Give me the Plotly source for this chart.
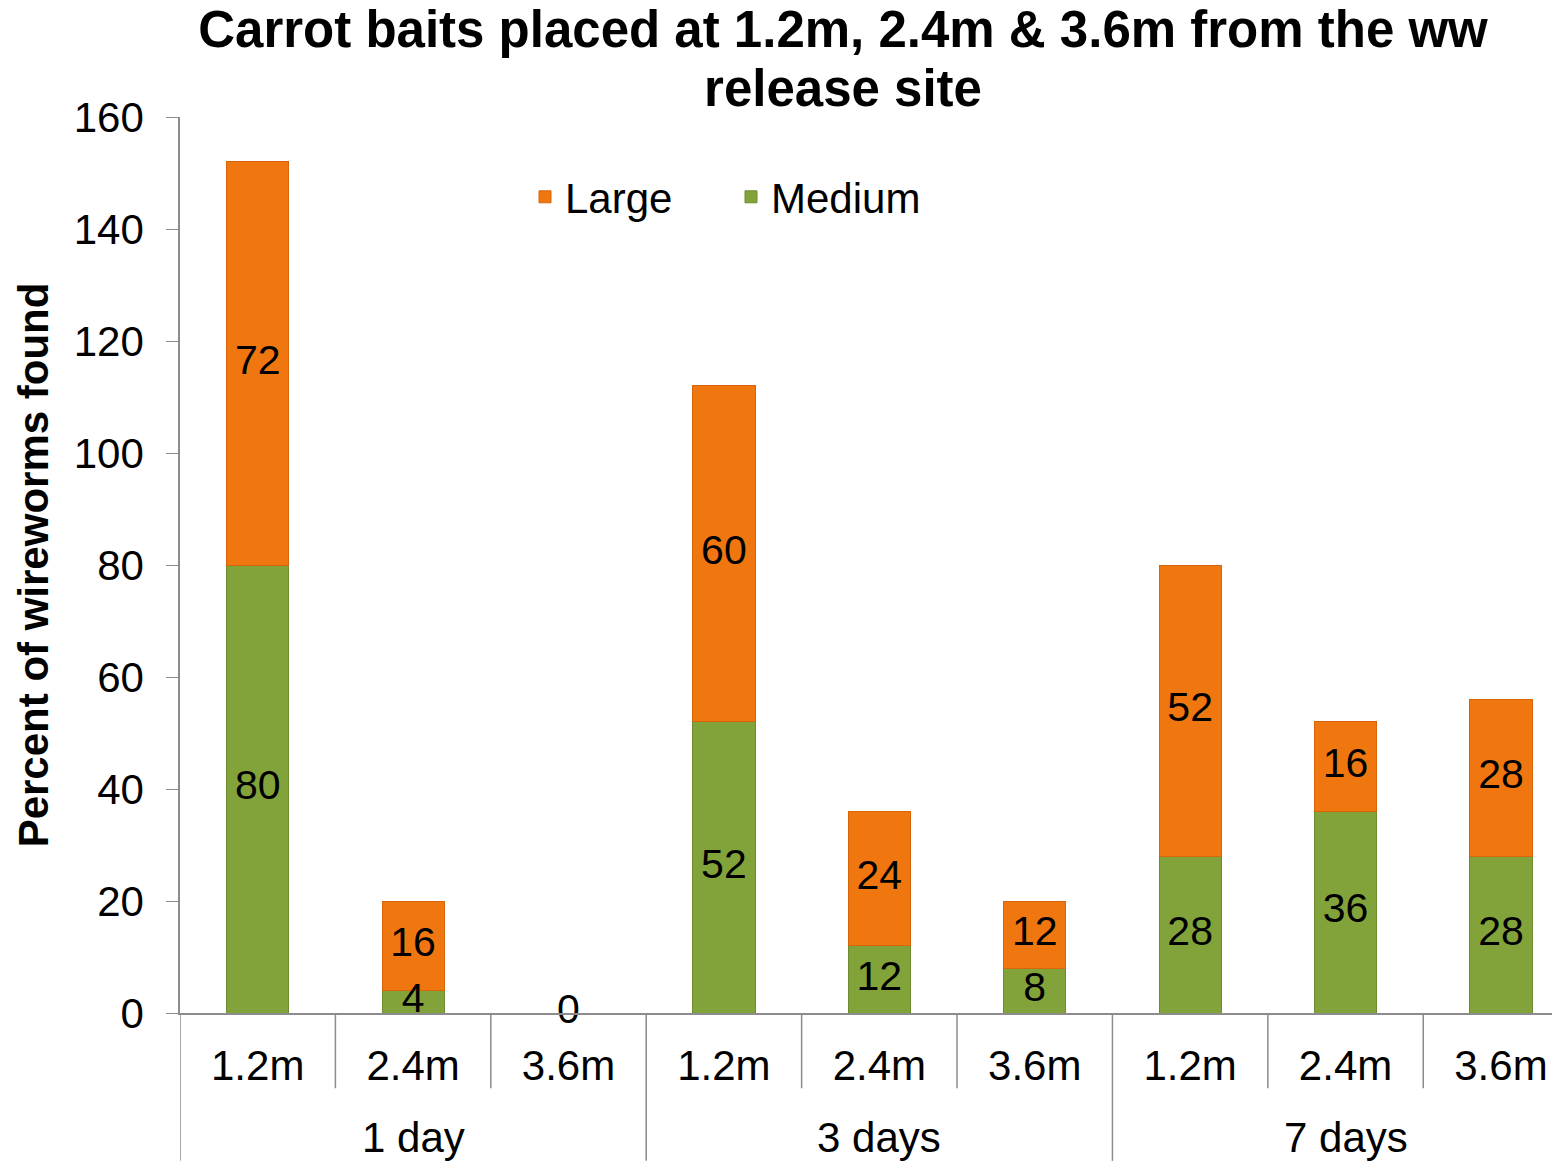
import plotly.graph_objects as go

# data
group_names = ["1 day", "3 days", "7 days"]
distances = ["1.2m", "2.4m", "3.6m"]
medium = [80, 4, 0, 52, 12, 8, 28, 36, 28]
large = [72, 16, 0, 60, 24, 12, 52, 16, 28]

font = "Liberation Sans, Arial, sans-serif"
grey = "#8C8C8C"

groups = [g for g in group_names for d in distances]
subs = [d for g in group_names for d in distances]
cats = [g + " " + d for g, d in zip(groups, subs)]

medium_bar = go.Bar(
    x=cats, y=medium, name="Medium", width=0.4,
    marker=dict(color="#82A33A", line=dict(color="#6E8B30", width=1)),
)
large_bar = go.Bar(
    x=cats, y=large, name="Large", width=0.4,
    marker=dict(color="#F0760F", line=dict(color="#D9650A", width=1)),
)

# value labels in the middle of each segment
medium_lbl = go.Scatter(
    x=cats, y=[m / 2 for m in medium], mode="text", cliponaxis=False,
    text=[str(m) for m in medium], showlegend=False, hoverinfo="skip",
    textfont=dict(size=41, color="black", family=font),
)
keep = [i for i in range(len(large)) if large[i] > 0]
large_lbl = go.Scatter(
    x=[cats[i] for i in keep], cliponaxis=False,
    y=[medium[i] + large[i] / 2 for i in keep], mode="text",
    text=[str(large[i]) for i in keep], showlegend=False, hoverinfo="skip",
    textfont=dict(size=41, color="black", family=font),
)

# category dividers below the axis (short between sub-categories, long between groups)
n = len(cats)
n_sub = len(distances)
shapes = []
for b in range(n + 1):
    low = -0.165 if b % n_sub == 0 else -0.084
    shapes.append(dict(type="line", xref="x", yref="paper", x0=b - 0.5, x1=b - 0.5,
                       y0=0, y1=low, line=dict(color=grey, width=1.5)))

# group labels centred under each group
annotations = []
for k, g in enumerate(group_names):
    annotations.append(dict(text=g, xref="x", yref="paper", x=cats[k * n_sub + n_sub // 2],
                            y=-0.139, showarrow=False, yanchor="middle",
                            font=dict(size=42, family=font, color="black")))

layout = go.Layout(
    width=1552, height=1153,
    barmode="stack",
    plot_bgcolor="white", paper_bgcolor="white",
    font=dict(family=font, size=42, color="black"),
    title=dict(
        text="<span style='font-size:51px'>Carrot baits placed at 1.2m, 2.4m &amp; 3.6m from the ww<br>release site</span>",
        x=835 / 1552, xref="container", xanchor="center",
        y=1 - 39 / 1153, yref="container", yanchor="middle",
        font=dict(size=45, family=font, weight="bold"),
    ),
    margin=dict(l=172, r=0, t=109, b=148),
    legend=dict(
        orientation="h", x=0.25, y=1 - 80 / 896, xanchor="left", yanchor="middle",
        font=dict(size=42), traceorder="reversed", entrywidth=161,
        bgcolor="rgba(0,0,0,0)",
    ),
    xaxis=dict(
        type="category", range=[-0.5, 8.38],
        tickmode="array", tickvals=cats, ticktext=subs,
        showline=True, linecolor=grey, linewidth=1.5,
        ticks="", ticklabelstandoff=15,
        tickfont=dict(size=42), showgrid=False,
    ),
    yaxis=dict(
        range=[0, 160], dtick=20, showgrid=False, zeroline=False,
        showline=True, linecolor=grey, linewidth=1.5,
        ticks="outside", ticklen=12, tickcolor=grey,
        tickfont=dict(size=42), ticklabelstandoff=14,
        title=dict(text="Percent of wireworms found",
                   font=dict(size=42, weight="bold"), standoff=12),
    ),
    shapes=shapes,
    annotations=annotations,
)

fig = go.Figure(data=[medium_bar, large_bar, medium_lbl, large_lbl], layout=layout)
fig.write_html("out.html")
